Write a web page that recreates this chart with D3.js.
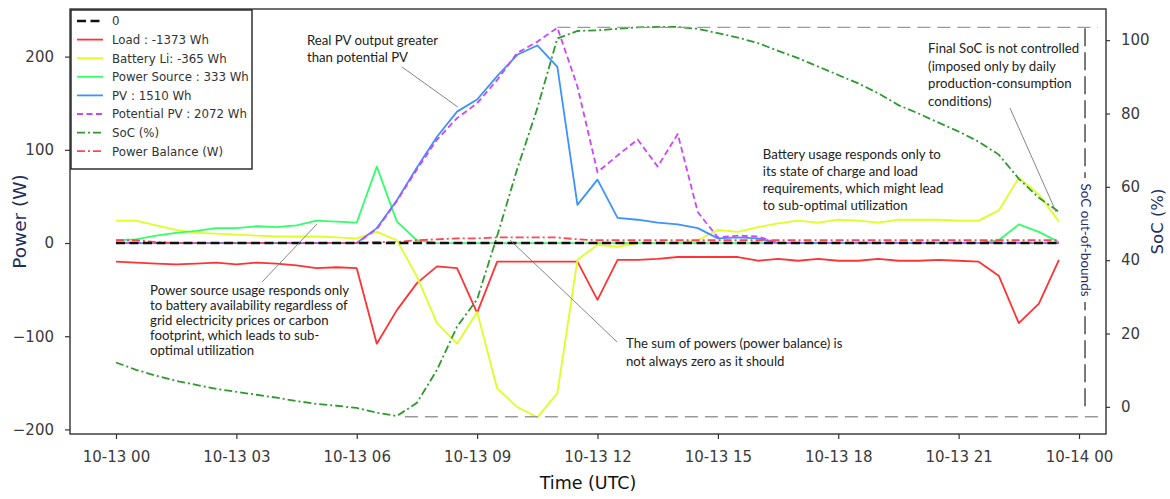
<!DOCTYPE html>
<html>
<head>
<meta charset="utf-8">
<title>Power flows and SoC</title>
<style>
  body { margin: 0; background: #fff; }
  svg { display: block; }
</style>
<script src="https://cdn.jsdelivr.net/npm/d3@7"></script>
</head>
<body>
<script>

    // half-hourly samples, 10-13 00:00 .. 23:30 (UTC)
    var times = ["00:00","00:30","01:00","01:30","02:00","02:30","03:00","03:30",
        "04:00","04:30","05:00","05:30","06:00","06:30","07:00","07:30",
        "08:00","08:30","09:00","09:30","10:00","10:30","11:00","11:30",
        "12:00","12:30","13:00","13:30","14:00","14:30","15:00","15:30",
        "16:00","16:30","17:00","17:30","18:00","18:30","19:00","19:30",
        "20:00","20:30","21:00","21:30","22:00","22:30","23:00","23:30"]

    var load = [-20,-21,-22,-23,-22,-21,-23,-21, -22,-24,-27,-26,-27,-108,-72,-43,
        -25,-27,-75,-20,-20,-20,-20,-20, -61,-18,-18,-17,-15,-15,-15,-15,
        -19,-17,-19,-17,-19,-19,-17,-19, -19,-18,-19,-20,-35,-86,-65,-18]

    var battery = [24,24,19,14,11,10,9,8, 7,7,7,6,5,12,3,-36,
        -86,-108,-74,-156,-176,-187,-161,-18, -2,-4,0,0,0,3,14,12,
        17,21,24,22,25,24,22,25, 25,25,24,24,35,70,52,23]

    var source = [3,4,8,11,13,16,16,18, 17,19,24,23,22,82,23,3,
        0,0,0,0,0,0,0,0, 0,0,0,0,0,0,0,0,
        0,0,0,0,0,0,0,0, 0,0,0,0,3,20,12,1]

    var pv = [0,0,0,0,0,0,0,0, 0,0,0,0,0,16,46,81,
        114,141,154,179,202,212,189,41, 68,27,25,22,20,16,5,6,
        5,0,0,0,0,0,0,0, 0,0,0,0,0,0,0,0]

    var potentialPv = [0,0,0,0,0,0,0,0, 0,0,0,0,0,15,45,79,
        111,134,150,175,204,216,231,168, 76,94,111,82,117,33,6,8,
        7,0,0,0,0,0,0,0, 0,0,0,0,0,0,0,0]

    var soc = [12.1,10.1,8.5,7.1,6.0,4.9,4.1,3.3, 2.5,1.6,0.8,0.3,-0.3,-1.6,-2.5,1.1,
        10.1,21.9,29.3,46.6,64.9,81.4,100.5,102.5, 102.7,103.1,103.5,103.6,103.6,103.1,101.9,100.7,
        99.2,97.1,95.1,92.8,90.5,88.2,85.5,82.3, 80.0,77.5,75.1,72.3,68.8,62.2,57.0,53.2]

    var balance = [3,3,1,0,0,0,0,0, 0,0,0,0,0,1,1,3,
        4,5,5,6,6,6,6,4, 3,3,3,3,3,3,3,3,
        3,3,3,3,3,3,3,3, 3,3,3,3,3,3,3,3]

    var legendLabels = ["0", "Load : -1373 Wh", "Battery Li: -365 Wh", "Power Source : 333 Wh",
        "PV : 1510 Wh", "Potential PV : 2072 Wh", "SoC (%)", "Power Balance (W)"]

    var powerTicks = [-200, -100, 0, 100, 200],
        socTicks = [0, 20, 40, 60, 80, 100]

    // SoC limits drawn as the out-of-bounds box
    var socMin = -2.7, socMax = 103.5

    var view_width = 1170,
        view_height = 499,
        plotLeft = 70, plotRight = 1106, plotTop = 9, plotBottom = 434

    var parse = d3.utcParse("%Y-%m-%d %H:%M")
    var dates = times.map(function (t) { return parse("2023-10-13 " + t) })
    // hours since 10-13 00:00 -> Date
    function hrs(h) { return new Date(Date.UTC(2023, 9, 13) + h * 3600e3) }

    var x = d3.scaleUtc()
        .domain([hrs(-1.146), hrs(24.673)])
        .range([plotLeft, plotRight])
    var y = d3.scaleLinear().domain([-204.9, 251.1]).range([plotBottom, plotTop])
    var y2 = d3.scaleLinear().domain([-7.4, 108.5]).range([plotBottom, plotTop])

    var svg = d3.select('body').append('svg')
        .attr('width', view_width)
        .attr('height', view_height)
        .style('font-family', 'DejaVu Sans, sans-serif')

    // ---- axes
    var xAxis = svg.append('g')
        .attr('transform', 'translate(0,' + plotBottom + ')')
        .call(d3.axisBottom(x).ticks(d3.utcHour.every(3))
            .tickFormat(d3.utcFormat('%m-%d %H')).tickSize(5).tickPadding(12))
    var yAxis = svg.append('g')
        .attr('transform', 'translate(' + plotLeft + ',0)')
        .call(d3.axisLeft(y).tickValues(powerTicks).tickSize(5).tickPadding(11)
            .tickFormat(function (d) { return d < 0 ? '\u2212' + (-d) : d }))
    var y2Axis = svg.append('g')
        .attr('transform', 'translate(' + plotRight + ',0)')
        .call(d3.axisRight(y2).tickValues(socTicks).tickSize(4).tickPadding(11))

    ;[xAxis, yAxis, y2Axis].forEach(function (g) {
        g.select('.domain').remove()
        g.selectAll('line').attr('stroke', '#333').attr('stroke-width', 1.2)
        g.selectAll('text').attr('fill', '#3a3a3a').style('font-size', '15px')
            .style('font-family', 'DejaVu Sans, sans-serif')
    })

    svg.append('text')
        .attr('transform', 'translate(26,' + (plotTop + plotBottom) / 2 + ') rotate(-90)')
        .attr('text-anchor', 'middle')
        .attr('fill', '#1f2f62')
        .style('font-size', '18.5px')
        .text('Power (W)')
    svg.append('text')
        .attr('transform', 'translate(1163,' + (plotTop + plotBottom) / 2 + ') rotate(-90)')
        .attr('text-anchor', 'middle')
        .attr('fill', '#1f2f62')
        .style('font-size', '16.5px')
        .text('SoC (%)')
    svg.append('text')
        .attr('x', (plotLeft + plotRight) / 2)
        .attr('y', 489)
        .attr('text-anchor', 'middle')
        .attr('fill', '#111')
        .style('font-size', '17.5px')
        .text('Time (UTC)')

    // ---- series
    function lineOf(vals, scale) {
        return d3.line()
            .x(function (d, i) { return x(dates[i]) })
            .y(function (d) { return scale(d) })(vals)
    }

    var series = [
        { vals: load, color: '#ff3333', dash: null, w: 1.8 },
        { vals: battery, color: '#ddff22', dash: null, w: 1.8 },
        { vals: source, color: '#33ff6a', dash: null, w: 1.8 },
        { vals: pv, color: '#3b93ff', dash: null, w: 1.8 },
        { vals: potentialPv, color: '#cc44ff', dash: '6,3.5', w: 1.8 },
        { vals: balance, color: '#ff4455', dash: '8,3,2,3', w: 1.8 }
    ]

    series.forEach(function (s) {
        svg.append('path')
            .attr('d', lineOf(s.vals, y))
            .attr('fill', 'none')
            .attr('stroke', s.color)
            .attr('stroke-width', s.w)
            .attr('stroke-dasharray', s.dash)
            .attr('stroke-linejoin', 'round')
    })

    // zero reference
    svg.append('line')
        .attr('x1', x(dates[0]))
        .attr('x2', x(dates[dates.length - 1]))
        .attr('y1', y(0))
        .attr('y2', y(0))
        .attr('stroke', '#111')
        .attr('stroke-width', 2.5)
        .attr('stroke-dasharray', '9,4.5')

    svg.append('path')
        .attr('d', lineOf(soc, y2))
        .attr('fill', 'none')
        .attr('stroke', '#2e9a2e')
        .attr('stroke-width', 1.8)
        .attr('stroke-dasharray', '8,3,2,3')

    // ---- SoC out-of-bounds box
    svg.append('line')
        .attr('x1', x(hrs(11))).attr('x2', x(hrs(24.47)))
        .attr('y1', y2(socMax)).attr('y2', y2(socMax))
        .attr('stroke', '#999').attr('stroke-width', 1.3).attr('stroke-dasharray', '13,7')
    svg.append('line')
        .attr('x1', x(hrs(7.2))).attr('x2', x(hrs(24.5)))
        .attr('y1', y2(socMin)).attr('y2', y2(socMin))
        .attr('stroke', '#999').attr('stroke-width', 1.3).attr('stroke-dasharray', '13,7')
    var bx = x(hrs(24.15))
    svg.append('line')
        .attr('x1', bx).attr('x2', bx)
        .attr('y1', y2(socMax) + 1).attr('y2', y2(socMin) - 6)
        .attr('stroke', '#222').attr('stroke-width', 1.2).attr('stroke-dasharray', '18,6')
    svg.append('rect')
        .attr('x', bx - 7).attr('y', 178).attr('width', 14).attr('height', 124)
        .attr('fill', '#fff')
    svg.append('text')
        .attr('transform', 'translate(' + (bx - 4.5) + ',240) rotate(90)')
        .attr('text-anchor', 'middle')
        .attr('fill', '#1f2d6a')
        .style('font-family', 'Lato, sans-serif')
        .style('font-size', '13.5px')
        .text('SoC out-of-bounds')

    // ---- annotations (text position, leader from/to in hours and W)
    var notes = [
        { lines: ['Real PV output greater', 'than potential PV'], h: 4.76, w: 212.4, lh: 17,
          from: [7.13, 188.8], to: [8.52, 145.9] },
        { lines: ['Final SoC is not controlled', '(imposed only by daily', 'production-consumption', 'conditions)'],
          h: 20.24, w: 203.4, lh: 17.5, from: [22.28, 144.8], to: [23.43, 33.3] },
        { lines: ['Battery usage responds only to', 'its state of charge and load', 'requirements, which might lead', 'to sub-optimal utilization'],
          h: 16.12, w: 89.8, lh: 17 },
        { lines: ['Power source usage responds only', 'to battery availability regardless of', 'grid electricity prices or carbon', 'footprint, which leads to sub-', 'optimal utilization'],
          h: 0.85, w: -55.3, lh: 15.2, from: [5.01, 20.4], to: [3.64, -41.8] },
        { lines: ['The sum of powers (power balance) is', 'not always zero as it should'],
          h: 12.71, w: -112.1, lh: 18, from: [9.82, 3.2], to: [12.49, -106.2] }
    ]

    notes.forEach(function (n) {
        if (n.from) {
            svg.append('line')
                .attr('x1', x(hrs(n.from[0]))).attr('y1', y(n.from[1]))
                .attr('x2', x(hrs(n.to[0]))).attr('y2', y(n.to[1]))
                .attr('stroke', '#777').attr('stroke-width', 0.9)
        }
        var tx = x(hrs(n.h))
        var t = svg.append('text')
            .attr('x', tx)
            .attr('y', y(n.w))
            .attr('fill', '#222')
            .style('font-family', 'Lato, sans-serif')
            .style('font-size', '13.2px')
        n.lines.forEach(function (l, i) {
            t.append('tspan').attr('x', tx).attr('dy', i ? n.lh : 0).text(l)
        })
    })

    // ---- frame
    svg.append('rect')
        .attr('x', plotLeft).attr('y', plotTop)
        .attr('width', plotRight - plotLeft).attr('height', plotBottom - plotTop)
        .attr('fill', 'none').attr('stroke', '#333').attr('stroke-width', 1.4)

    // ---- legend
    var legendStyles = [
        { color: '#111', dash: '9,4.5', w: 2.5 },
        { color: '#ff3333', dash: null, w: 1.8 },
        { color: '#ddff22', dash: null, w: 1.8 },
        { color: '#33ff6a', dash: null, w: 1.8 },
        { color: '#3b93ff', dash: null, w: 1.8 },
        { color: '#cc44ff', dash: '6,3.5', w: 1.8 },
        { color: '#2e9a2e', dash: '8,3,2,3', w: 1.8 },
        { color: '#ff4455', dash: '8,3,2,3', w: 1.8 }
    ]
    var legend = svg.append('g').attr('transform', 'translate(71,10)')
    legend.append('rect')
        .attr('width', 181).attr('height', 159)
        .attr('fill', '#fff').attr('stroke', '#222').attr('stroke-width', 1.4)
    legendLabels.forEach(function (label, i) {
        var cy = 11 + i * 18.6
        var st = legendStyles[i]
        legend.append('line')
            .attr('x1', 6).attr('x2', 32).attr('y1', cy).attr('y2', cy)
            .attr('stroke', st.color).attr('stroke-width', st.w)
            .attr('stroke-dasharray', st.dash)
        legend.append('text')
            .attr('x', 41).attr('y', cy + 4.3)
            .attr('fill', '#333')
            .style('font-size', '11.8px')
            .text(label)
    })

</script>
</body>
</html>
